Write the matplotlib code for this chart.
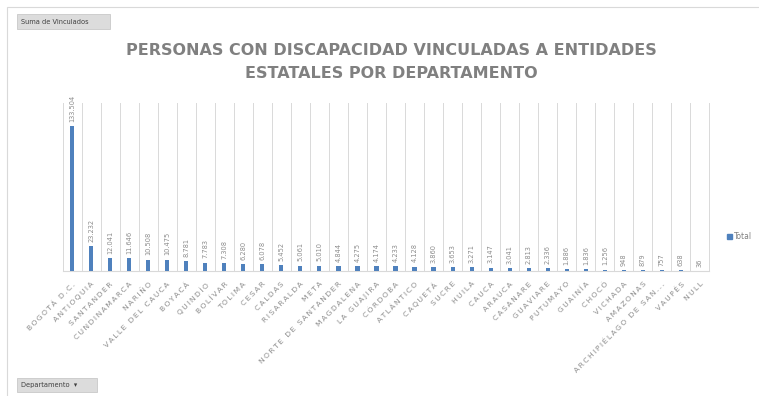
import matplotlib
matplotlib.use("Agg")
import matplotlib.pyplot as plt
from matplotlib.patches import Rectangle
import numpy as np

departamentos = ["BOGOTÁ D.C.", "ANTIOQUIA", "SANTANDER", "CUNDINAMARCA", "NARIÑO",
                 "VALLE DEL CAUCA", "BOYACÁ", "QUINDÍO", "BOLÍVAR", "TOLIMA", "CESAR",
                 "CALDAS", "RISARALDA", "META", "NORTE DE SANTANDER", "MAGDALENA",
                 "LA GUAJIRA", "CÓRDOBA", "ATLÁNTICO", "CAQUETÁ", "SUCRE", "HUILA",
                 "CAUCA", "ARAUCA", "CASANARE", "GUAVIARE", "PUTUMAYO", "GUAINÍA",
                 "CHOCÓ", "VICHADA", "AMAZONAS", "ARCHIPIÉLAGO DE SAN...", "VAUPÉS", "NULL"]
vinculados = [133504, 23232, 12041, 11646, 10508, 10475, 8781, 7783, 7308, 6280, 6078,
              5452, 5061, 5010, 4844, 4275, 4174, 4233, 4128, 3860, 3653, 3271,
              3147, 3041, 2813, 2336, 1886, 1836, 1256, 948, 879, 757, 638, 36]
etiquetas = ["133.504", "23.232", "12.041", "11.646", "10.508", "10.475", "8.781", "7.783",
             "7.308", "6.280", "6.078", "5.452", "5.061", "5.010", "4.844", "4.275", "4.174",
             "4.233", "4.128", "3.860", "3.653", "3.271", "3.147", "3.041", "2.813", "2.336",
             "1.886", "1.836", "1.256", "948", "879", "757", "638", "36"]
serie = "Total"
titulo = "PERSONAS CON DISCAPACIDAD VINCULADAS A ENTIDADES\nESTATALES POR DEPARTAMENTO"

W, H = 759, 396
fig = plt.figure(figsize=(W / 100, H / 100), dpi=100)

def fx(px):
    return px / W

def fy(py):
    return 1 - py / H

def spaced(s, sep="\u2009"):
    return sep.join(s)

# chart area border
fig.patches.append(Rectangle((fx(7), fy(398)), fx(760) - fx(7), fy(7) - fy(398),
                             transform=fig.transFigure, fill=False,
                             edgecolor="#d9d9d9", linewidth=0.8))

left, right, top, bottom = 62.5, 709.5, 103, 271
ax = fig.add_axes([fx(left), fy(bottom), fx(right) - fx(left), fy(top) - fy(bottom)])

x = np.arange(len(departamentos))
ax.bar(x, vinculados, width=0.22, color="#4F81BD", label=serie, zorder=3)
ax.set_xlim(-0.5, len(departamentos) - 0.5)
ax.set_ylim(0, 155000)

for i in range(len(departamentos) + 1):
    ax.axvline(i - 0.5, color="#d9d9d9", linewidth=0.7, zorder=1)

for xi, v, lab in zip(x, vinculados, etiquetas):
    ax.annotate(lab, (xi, v), xytext=(0, 3), textcoords="offset points",
                rotation=90, ha="center", va="bottom", fontsize=4.8,
                color="#8c8c8c", annotation_clip=False)

for s in ["top", "right", "left"]:
    ax.spines[s].set_visible(False)
ax.spines["bottom"].set_color("#d9d9d9")
ax.spines["bottom"].set_linewidth(0.8)
ax.set_yticks([])
ax.set_xticks(x)
ax.set_xticklabels([spaced(d) for d in departamentos], rotation=45, ha="right",
                   rotation_mode="anchor", fontsize=5.4, color="#8c8c8c")
ax.tick_params(axis="x", length=0, pad=7)

fig.text(fx(391), fy(62), titulo, ha="center", va="center", fontsize=11.5,
         fontweight="bold", color="#808080", linespacing=1.6)

# legend
fig.patches.append(Rectangle((fx(727), fy(239)), fx(5), fy(0) - fy(5),
                             transform=fig.transFigure, color="#4F81BD"))
fig.text(fx(734), fy(236.5), serie, ha="left", va="center", fontsize=5.5, color="#808080")

# field buttons
for (x0, y0, x1, y1, txt) in [(17, 14, 110, 29, "Suma de Vinculados"),
                              (17, 378, 97, 392, "Departamento  \u25be")]:
    fig.patches.append(Rectangle((fx(x0), fy(y1)), fx(x1) - fx(x0), fy(y0) - fy(y1),
                                 transform=fig.transFigure, facecolor="#dcdcdc",
                                 edgecolor="#c8c8c8", linewidth=0.6))
    fig.text(fx(x0 + 4), fy((y0 + y1) / 2), txt, ha="left", va="center",
             fontsize=4.8, color="#404040")

fig.savefig("out.png", dpi=100)
